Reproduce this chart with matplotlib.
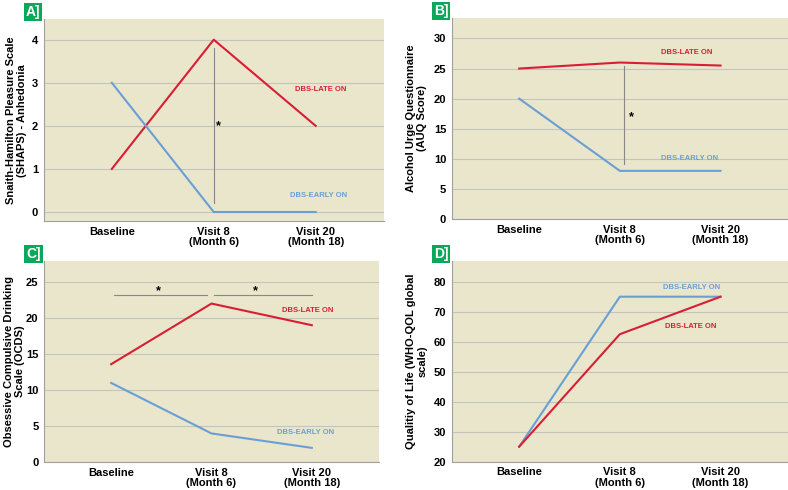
import numpy as np
import matplotlib.pyplot as plt

plt.rcParams['font.family'] = ['Liberation Sans', 'DejaVu Sans']
plt.rcParams['font.weight'] = 'bold'

visits = ['Baseline', 'Visit 8\n(Month 6)', 'Visit 20\n(Month 18)']

shaps_late = [1, 4, 2]
shaps_early = [3, 0, 0]
auq_late = [25, 26, 25.5]
auq_early = [20, 8, 8]
ocds_late = [13.6, 22, 19]
ocds_early = [11, 4, 2]
qol_late = [25, 62.5, 75]
qol_early = [25, 75, 75]

RED = '#d81e34'
BLUE = '#6a9fd6'
BG = '#e9e6cc'
GREEN = '#0aa85a'

W, H = 788, 490
fig = plt.figure(figsize=(W / 100, H / 100), dpi=100)


def make_ax(l, t, r, b):
    return fig.add_axes([l / W, 1 - b / H, (r - l) / W, (b - t) / H])


def style(ax, ylim, yticks, ylabel, tag, lx):
    ax.set_facecolor(BG)
    ax.set_xlim(-0.67, 2.67)
    ax.set_ylim(*ylim)
    ax.set_yticks(yticks)
    ax.set_xticks(range(3))
    ax.set_xticklabels(visits, fontsize=8, fontweight='bold', linespacing=1.05)
    ax.tick_params(length=0, labelsize=8, pad=4)
    for lab in ax.get_yticklabels():
        lab.set_fontweight('bold')
    ax.yaxis.grid(True, color='#c4c4bc', lw=0.8)
    ax.set_axisbelow(True)
    for s in ['top', 'right']:
        ax.spines[s].set_visible(False)
    for s in ['left', 'bottom']:
        ax.spines[s].set_color('#a0a0a0')
        ax.spines[s].set_linewidth(0.8)
    ax.set_ylabel(ylabel, fontsize=8, fontweight='bold', linespacing=1.1)
    ax.yaxis.set_label_coords(lx, 0.5)
    ax.text(-0.01, 1.0, tag, transform=ax.transAxes, ha='right', va='bottom',
            color='white', fontsize=10, fontweight='bold',
            bbox=dict(boxstyle='square,pad=0.15', fc=GREEN, ec='none'))


x = np.arange(3)

# A
ax = make_ax(43.5, 19, 384, 221.5)
ax.plot(x, shaps_late, color=RED, lw=1.5)
ax.plot(x, shaps_early, color=BLUE, lw=1.5)
ax.plot([1, 1], [0.2, 3.8], color='#888888', lw=0.8)
ax.text(1.05, 2.0, '*', fontsize=9, ha='center', va='center')
ax.text(2.05, 2.85, 'DBS-LATE ON', color=RED, fontsize=5.5, ha='center', va='center')
ax.text(2.03, 0.39, 'DBS-EARLY ON', color=BLUE, fontsize=5.5, ha='center', va='center')
style(ax, (-0.22, 4.48), [0, 1, 2, 3, 4],
      'Snaith-Hamilton Pleasure Scale\n(SHAPS) - Anhedonia', 'A]', -0.048)

# B
ax = make_ax(451.7, 18, 788, 219)
ax.plot(x, auq_late, color=RED, lw=1.5)
ax.plot(x, auq_early, color=BLUE, lw=1.5)
ax.plot([1.04, 1.04], [9.2, 25.5], color='#888888', lw=0.8)
ax.text(1.11, 17.0, '*', fontsize=9, ha='center', va='center')
ax.text(1.66, 27.7, 'DBS-LATE ON', color=RED, fontsize=5.5, ha='center', va='center')
ax.text(1.69, 10.1, 'DBS-EARLY ON', color=BLUE, fontsize=5.5, ha='center', va='center')
style(ax, (0, 33.4), [0, 5, 10, 15, 20, 25, 30],
      'Alcohol Urge Questionnaire\n(AUQ Score)', 'B]', -0.073)

# C
ax = make_ax(44, 261, 379, 462.3)
ax.plot(x, ocds_late, color=RED, lw=1.5)
ax.plot(x, ocds_early, color=BLUE, lw=1.5)
ax.plot([0.03, 0.96], [23.2, 23.2], color='#888888', lw=0.8)
ax.plot([1.02, 2.0], [23.2, 23.2], color='#888888', lw=0.8)
ax.text(0.47, 23.7, '*', fontsize=9, ha='center', va='center')
ax.text(1.44, 23.7, '*', fontsize=9, ha='center', va='center')
ax.text(1.96, 21.0, 'DBS-LATE ON', color=RED, fontsize=5.5, ha='center', va='center')
ax.text(1.94, 4.15, 'DBS-EARLY ON', color=BLUE, fontsize=5.5, ha='center', va='center')
style(ax, (0, 27.9), [0, 5, 10, 15, 20, 25],
      'Obsessive Compulsive Drinking\nScale (OCDS)', 'C]', -0.057)

# D
ax = make_ax(451.7, 261, 788, 461.7)
ax.plot(x, qol_early, color=BLUE, lw=1.5)
ax.plot(x, qol_late, color=RED, lw=1.5)
ax.text(1.71, 78, 'DBS-EARLY ON', color=BLUE, fontsize=5.5, ha='center', va='center')
ax.text(1.70, 65, 'DBS-LATE ON', color=RED, fontsize=5.5, ha='center', va='center')
style(ax, (20, 86.9), [20, 30, 40, 50, 60, 70, 80],
      'Qualitiy of Life (WHO-QOL global\nscale)', 'D]', -0.073)

fig.savefig('out.png', dpi=100)
